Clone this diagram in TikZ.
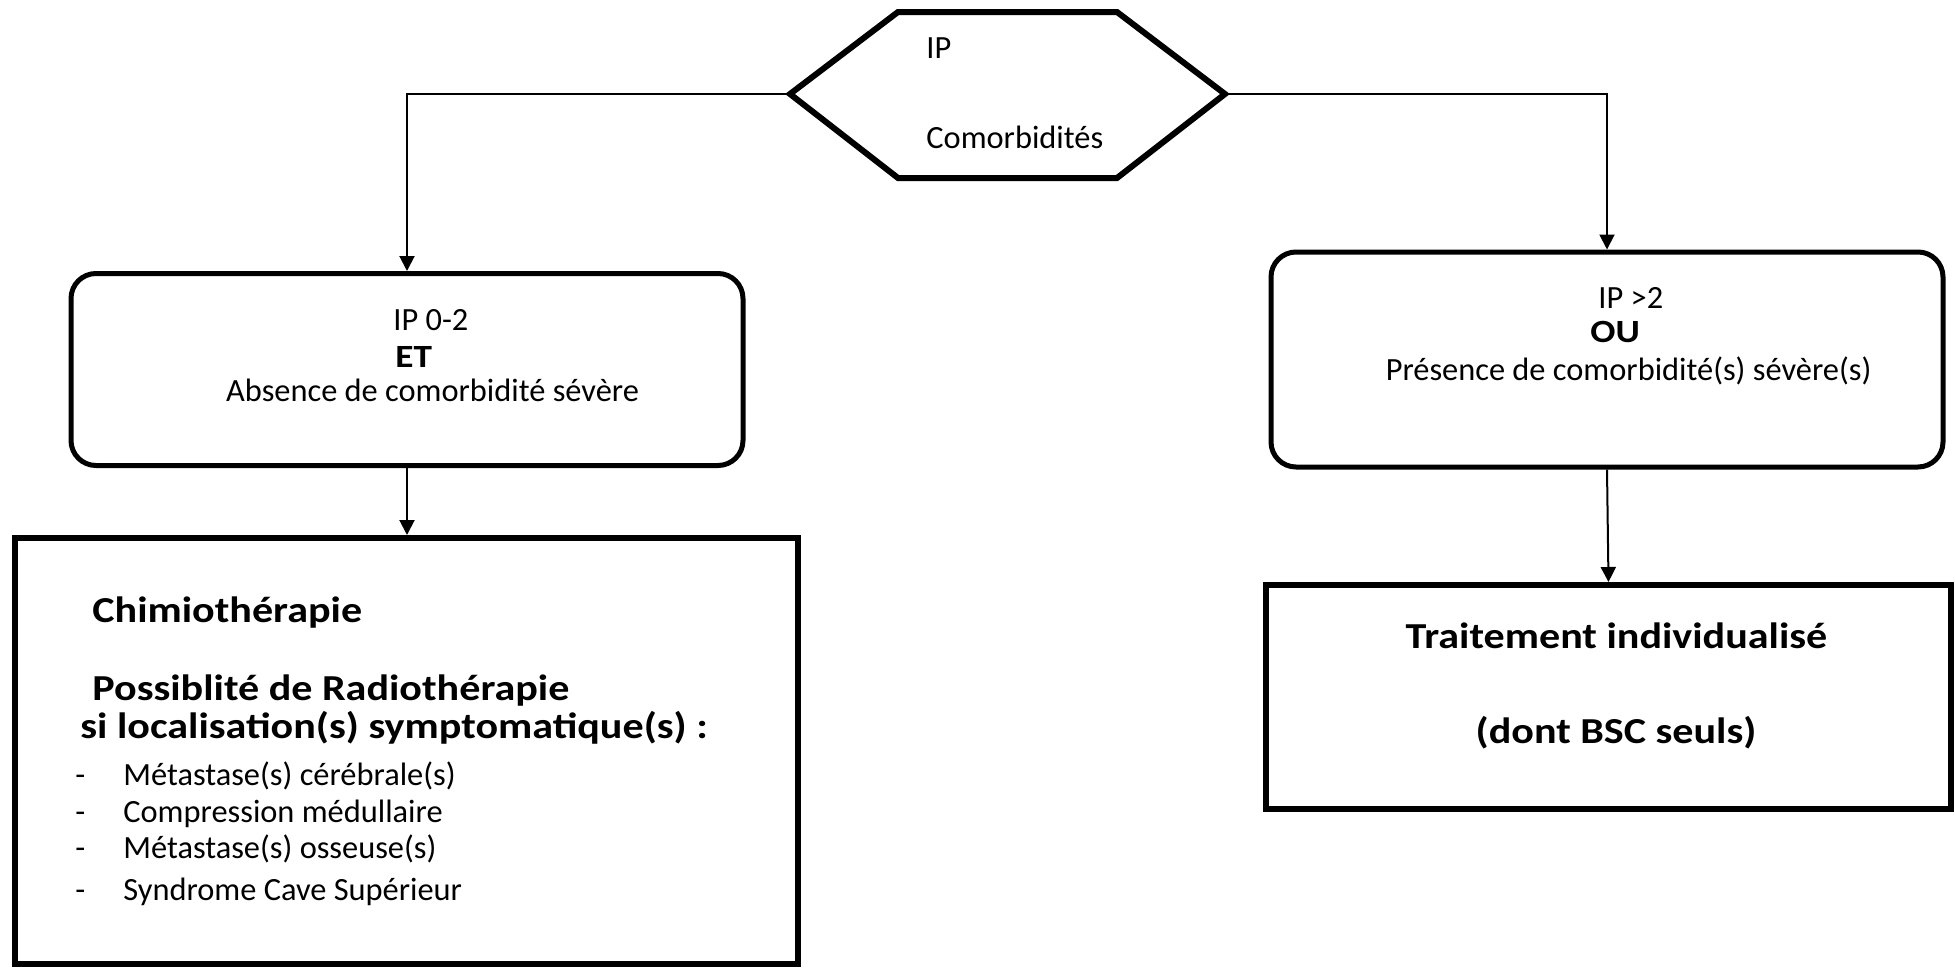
\documentclass[tikz,border=0pt]{standalone}
\usepackage{fontspec}
\setmainfont{Carlito}[BoldFeatures={FakeStretch=1.15}]
\usetikzlibrary{arrows.meta}
\tikzset{
  conn/.style={line width=1pt, -{Triangle[width=7.5pt,length=7.5pt]}},
  roundbox/.style={draw, line width=2.5pt, rounded corners=12.5pt, inner sep=0pt},
  sqbox/.style={draw, line width=3pt, inner sep=0pt},
  hexline/.style={line width=3pt, line join=miter},
  reg/.style={inner sep=0pt, font=\fontsize{16.2}{19}\selectfont},
  bld/.style={inner sep=0pt, font=\fontsize{18.3}{22}\selectfont\bfseries},
  bsm/.style={inner sep=0pt, font=\fontsize{16.2}{19}\selectfont\bfseries},
}
\begin{document}
\begin{tikzpicture}[x=0.5pt,y=-0.5pt]
\useasboundingbox (0,0) rectangle (1955,969);

% hexagon
\coordinate (hexL) at (790,94);
\coordinate (hexTL) at (898,12);
\coordinate (hexTR) at (1117,12);
\coordinate (hexR) at (1225,94);
\coordinate (hexBR) at (1117,178);
\coordinate (hexBL) at (898,178);
\draw[hexline] (hexL) -- (hexTL) -- (hexTR) -- (hexR) -- (hexBR) -- (hexBL) -- cycle;
\node[reg, anchor=base west] (hip) at (926,58) {IP};
\node[reg, anchor=base west] (hcom) at (926,148) {Comorbidités};

% boxes
\node[roundbox, minimum width=336pt, minimum height=96pt] (lbox) at (407,369.5) {};
\node[roundbox, minimum width=336pt, minimum height=107.5pt] (rbox) at (1607,359.5) {};
\node[sqbox, minimum width=391.5pt, minimum height=213pt] (lrect) at (406.5,751) {};
\node[sqbox, minimum width=342.5pt, minimum height=112pt] (rrect) at (1608.5,697) {};

% left rounded box text
\node[reg, anchor=base west] (l1) at (393,330) {IP 0-2};
\node[bsm, anchor=base west] (l2) at (395,367) {ET};
\node[reg, anchor=base] (l3) at (432.5,401) {Absence de comorbidité sévère};

% right rounded box text
\node[reg, anchor=base west] (r1) at (1598,308) {IP >2};
\node[bsm, anchor=base west] (r2) at (1590,342) {OU};
\node[reg, anchor=base] (r3) at (1628.5,380) {Présence de comorbidité(s) sévère(s)};

% left rectangle text
\node[bld, anchor=base west] (c1) at (92,622) {Chimiothérapie};
\node[bld, anchor=base west] (c2) at (92,700) {Possiblité de Radiothérapie};
\node[bld, anchor=base west] (c3) at (80,738) {si localisation(s) symptomatique(s) :};
\node[reg, anchor=base west] (d1) at (75,785) {-};
\node[reg, anchor=base west] (t1) at (123,785) {Métastase(s) cérébrale(s)};
\node[reg, anchor=base west] (d2) at (75,822) {-};
\node[reg, anchor=base west] (t2) at (123,822) {Compression médullaire};
\node[reg, anchor=base west] (d3) at (75,858) {-};
\node[reg, anchor=base west] (t3) at (123,858) {Métastase(s) osseuse(s)};
\node[reg, anchor=base west] (d4) at (75,900) {-};
\node[reg, anchor=base west] (t4) at (123,900) {Syndrome Cave Supérieur};

% right rectangle text
\node[bld, anchor=base] (s1) at (1616.5,648) {Traitement individualisé};
\node[bld, anchor=base] (s2) at (1616,743) {(dont BSC seuls)};

% connectors
\draw[conn] (hexL) -| (lbox.north);
\draw[conn] (hexR) -| (rbox.north);
\draw[conn] (lbox.south) -- (lbox.south |- lrect.north);
\draw[conn] (rbox.south) -- (rrect.north);
\end{tikzpicture}
\end{document}
